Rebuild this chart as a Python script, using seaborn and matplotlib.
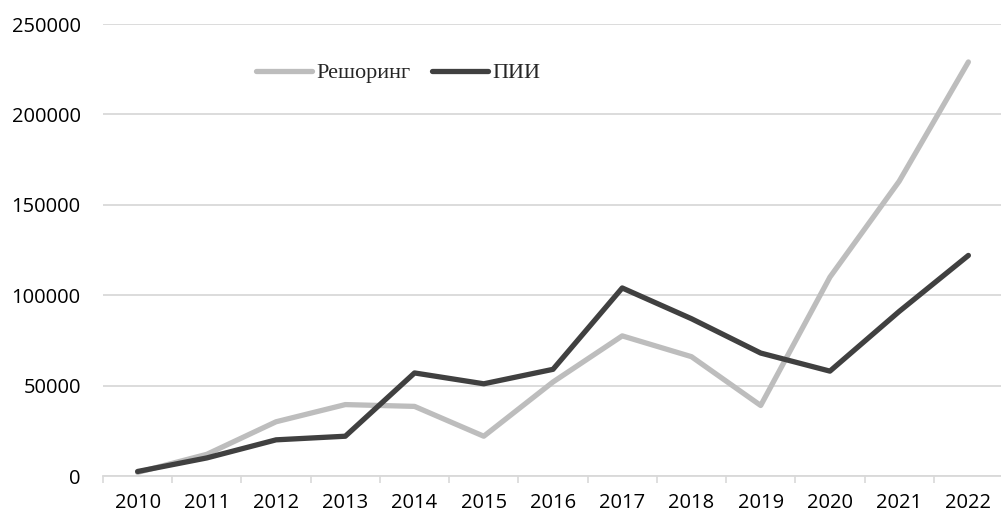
import numpy as np
import pandas as pd
import matplotlib
matplotlib.use("Agg")
import matplotlib.pyplot as plt
import seaborn as sns
from matplotlib.lines import Line2D

years = [2010, 2011, 2012, 2013, 2014, 2015, 2016, 2017, 2018, 2019, 2020, 2021, 2022]
reshoring = [2000, 12000, 30000, 39500, 38500, 22000, 52000, 77500, 66000, 39000, 110000, 163000, 229000]
fdi = [2500, 10000, 20000, 22000, 57000, 51000, 59000, 104000, 87000, 68000, 58000, 91000, 122000]
series_names = ["Решоринг", "ПИИ"]
y_ticks = [0, 50000, 100000, 150000, 200000, 250000]

sns.set_style("white")
plt.rcParams["font.family"] = ["Open Sans", "DejaVu Sans"]

df = pd.DataFrame({
    "pos": list(range(len(years))) * 2,
    "value": reshoring + fdi,
    "series": [series_names[0]] * len(years) + [series_names[1]] * len(years),
})

fig = plt.figure(figsize=(10.01, 5.15), dpi=100)
ax = fig.add_axes([103 / 1001, 39 / 515, 900 / 1001, 452 / 515])

palette = {series_names[0]: "#bdbdbd", series_names[1]: "#404040"}
sns.lineplot(data=df, x="pos", y="value", hue="series", palette=palette,
             linewidth=3.8, ax=ax, legend=False, solid_capstyle="round",
             solid_joinstyle="round")

ax.set_xlim(-0.5, len(years) - 0.5)
ax.set_ylim(0, 250000)
ax.set_yticks(y_ticks)
ax.set_yticklabels([str(v) for v in y_ticks])
ax.set_xticks(range(len(years)))
ax.set_xticklabels([str(y) for y in years])
ax.set_xticks(np.arange(-0.5, len(years), 1.0), minor=True)
ax.tick_params(axis="x", which="major", length=0, pad=12.5, labelsize=14.5, colors="#000000")
ax.tick_params(axis="x", which="minor", length=5, width=1.2, color="#d9d9d9", direction="out", bottom=True)
ax.tick_params(axis="y", length=0, pad=16, labelsize=14.5, colors="#000000")
ax.set_xlabel("")
ax.set_ylabel("")

ax.grid(axis="y", color="#d9d9d9", linewidth=1.3)
ax.grid(axis="x", visible=False)
for s in ["top", "right", "left"]:
    ax.spines[s].set_visible(False)
ax.spines["bottom"].set_color("#d9d9d9")
ax.spines["bottom"].set_linewidth(1.3)
ax.set_axisbelow(True)

handles = [Line2D([], [], color=palette[n], linewidth=3.8, solid_capstyle="round") for n in series_names]
fig.legend(handles, series_names, loc="center left",
           bbox_to_anchor=(256 / 1001, 1 - 73 / 515), bbox_transform=fig.transFigure,
           ncol=2, frameon=False, borderpad=0, borderaxespad=0,
           handlelength=2.5, handletextpad=0.2, columnspacing=1.0,
           prop={"family": "Liberation Serif", "size": 16})

fig.savefig("out.png", dpi=100)
